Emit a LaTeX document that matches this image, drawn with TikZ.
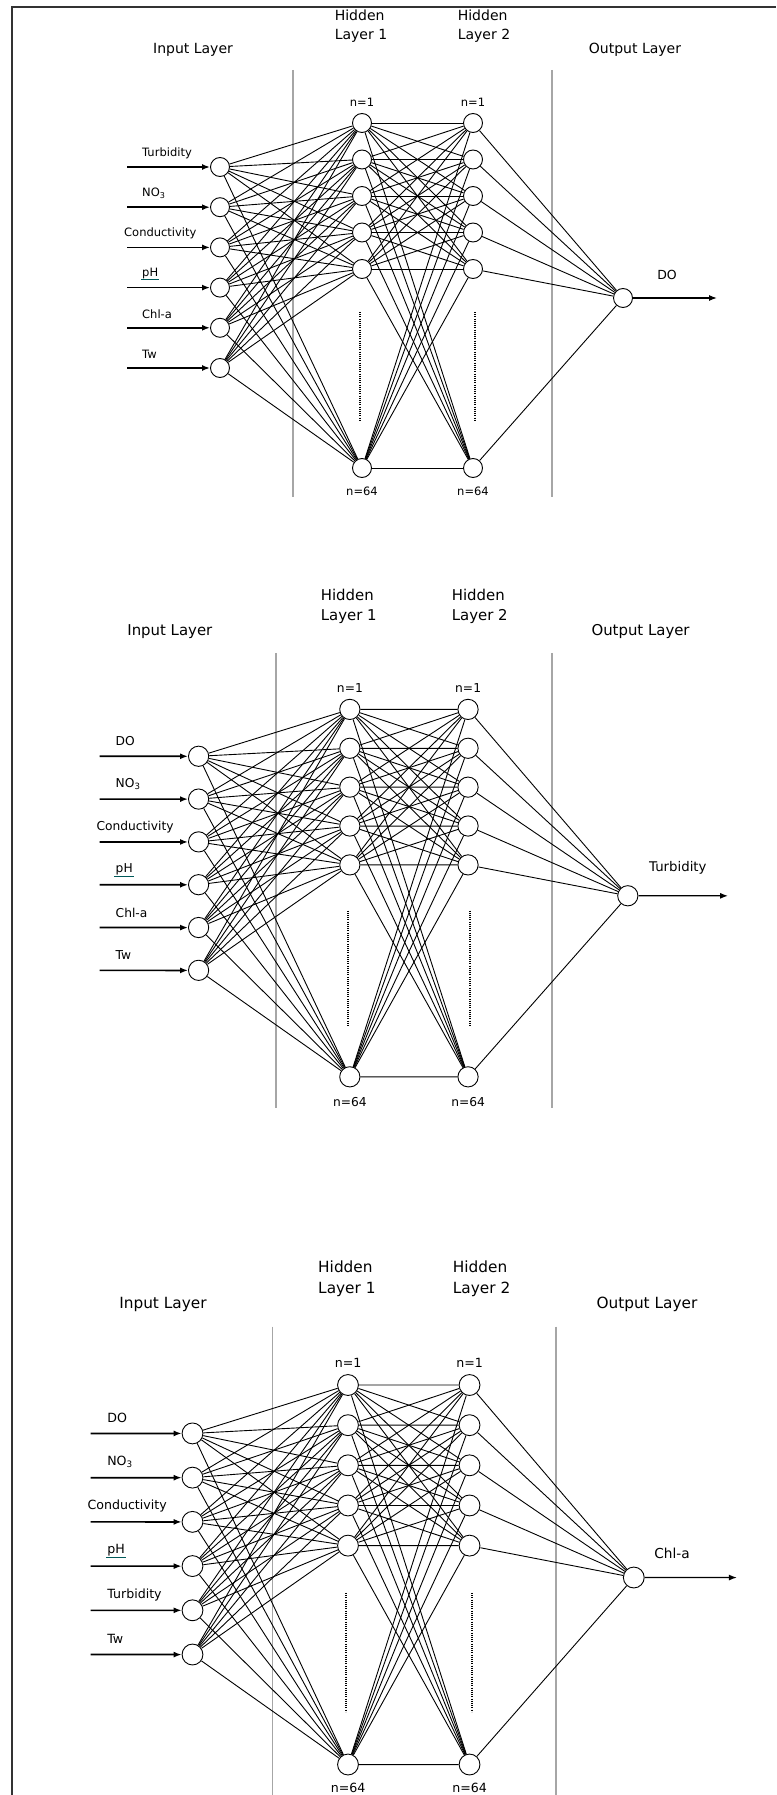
\documentclass[tikz,border=0pt]{standalone}
\usepackage{fontspec}
\setmainfont{DejaVu Sans}
\usetikzlibrary{positioning,arrows.meta}

\begin{document}
\begin{tikzpicture}[x=1pt,y=-1pt,
    neuron/.style={circle,draw,line width=0.9pt,minimum size=19pt,inner sep=0pt},
    title/.style={font=\fontsize{14}{19}\selectfont,align=left},
    small/.style={font=\fontsize{11.5}{13}\selectfont,inner sep=1pt},
    outlbl/.style={font=\fontsize{12.5}{14}\selectfont},
    link/.style={line width=0.9pt},
    feed/.style={line width=1.7pt,-{Latex[length=8pt,width=6pt]}},
    result/.style={line width=1.2pt,-{Latex[length=8pt,width=6pt]}},
    sep/.style={draw=black!35,line width=1.8pt},
    dots/.style={line width=2pt,dash pattern=on 1pt off 1.2pt}]
  \useasboundingbox (0,0) rectangle (776,1795);
  \draw[line width=2pt,black!80] (12,1795) -- (12,7) -- (776,7);

  % model 1: DO
  \begin{scope}[name prefix=a-]
    \draw[sep] (293,70) -- (293,497);
    \draw[sep] (552,70) -- (552,497);
    \node[title] (tin) at (193,50) {Input Layer};
    \node[title] (th1) at (361,26.5) {Hidden\\Layer 1};
    \node[title] (th2) at (484,26.5) {Hidden\\Layer 2};
    \node[title] (tout) at (635,50) {Output Layer};
    \foreach \t/\lx [count=\i] in {Turbidity/141,NO\textsubscript{3}/141,Conductivity/123,pH/141,Chl-a/141,Tw/141}{
      \node[neuron] (i\i) at (220,{167+40.2*(\i-1)}) {};
      \coordinate (s\i) at (127,{167+40.2*(\i-1)});
      \node[small,anchor=west] (l\i) at (\lx,{153+40.2*(\i-1)}) {\t};
      \draw[feed] (s\i) -- (i\i);
    }
    \foreach \j in {1,...,6}{
      \pgfmathsetmacro\hy{\j<6 ? 123+36.5*(\j-1) : 468}
      \node[neuron] (h\j) at (362,\hy) {};
      \node[neuron] (k\j) at (473,\hy) {};
    }
    \node[small,above=5pt of h1] (h1n) {n=1};
    \node[small,above=5pt of k1] (k1n) {n=1};
    \node[small,below=8pt of h6] (h6n) {n=64};
    \node[small,below=8pt of k6] (k6n) {n=64};
    \draw[dots] (360,312) -- (360,420);
    \draw[dots] (475,312) -- (475,420);
    \node[neuron] (o) at (623,298) {};
    \coordinate (e) at (717,298);
    \draw[result] (o) -- (e);
    \node[outlbl] (ol) at (667,275) {DO};
    \foreach \i in {1,...,6}{
      \foreach \j in {1,...,6}{
        \draw[link] (i\i) -- (h\j);
        \draw[link] (h\i) -- (k\j);
      }
      \draw[link] (k\i) -- (o);
    }
    \draw[teal!70!black,line width=0.5pt] ([yshift=1pt]l4.south west) -- ([yshift=1pt]l4.south east);
  \end{scope}

  % model 2: Turbidity
  \begin{scope}[shift={(-35.7,578.4)},scale=1.065,transform shape,name prefix=b-]
    \draw[sep] (293,70) -- (293,497);
    \draw[sep] (552,70) -- (552,497);
    \node[title] (tin) at (193,50) {Input Layer};
    \node[title] (th1) at (361,26.5) {Hidden\\Layer 1};
    \node[title] (th2) at (484,26.5) {Hidden\\Layer 2};
    \node[title] (tout) at (635,50) {Output Layer};
    \foreach \t/\lx [count=\i] in {DO/141,NO\textsubscript{3}/141,Conductivity/123,pH/141,Chl-a/141,Tw/141}{
      \node[neuron] (i\i) at (220,{167+40.2*(\i-1)}) {};
      \coordinate (s\i) at (127,{167+40.2*(\i-1)});
      \node[small,anchor=west] (l\i) at (\lx,{153+40.2*(\i-1)}) {\t};
      \draw[feed] (s\i) -- (i\i);
    }
    \foreach \j in {1,...,6}{
      \pgfmathsetmacro\hy{\j<6 ? 123+36.5*(\j-1) : 468}
      \node[neuron] (h\j) at (362,\hy) {};
      \node[neuron] (k\j) at (473,\hy) {};
    }
    \node[small,above=5pt of h1] (h1n) {n=1};
    \node[small,above=5pt of k1] (k1n) {n=1};
    \node[small,below=8pt of h6] (h6n) {n=64};
    \node[small,below=8pt of k6] (k6n) {n=64};
    \draw[dots] (360,312) -- (360,420);
    \draw[dots] (475,312) -- (475,420);
    \node[neuron] (o) at (623,298) {};
    \coordinate (e) at (717,298);
    \draw[result] (o) -- (e);
    \node[outlbl] (ol) at (670,272) {Turbidity};
    \foreach \i in {1,...,6}{
      \foreach \j in {1,...,6}{
        \draw[link] (i\i) -- (h\j);
        \draw[link] (h\i) -- (k\j);
      }
      \draw[link] (k\i) -- (o);
    }
    \draw[teal!70!black,line width=0.5pt] ([yshift=1pt]l4.south west) -- ([yshift=1pt]l4.south east);
  \end{scope}

  % model 3: Chl-a
  \begin{scope}[shift={(-48.4,1249.7)},xscale=1.095,yscale=1.1,transform shape,name prefix=c-]
    \draw[sep] (293,70) -- (293,497);
    \draw[sep] (552,70) -- (552,497);
    \node[title] (tin) at (193,50) {Input Layer};
    \node[title] (th1) at (361,26.5) {Hidden\\Layer 1};
    \node[title] (th2) at (484,26.5) {Hidden\\Layer 2};
    \node[title] (tout) at (635,50) {Output Layer};
    \foreach \t/\lx [count=\i] in {DO/141,NO\textsubscript{3}/141,Conductivity/123,pH/141,Turbidity/141,Tw/141}{
      \node[neuron] (i\i) at (220,{167+40.2*(\i-1)}) {};
      \coordinate (s\i) at (127,{167+40.2*(\i-1)});
      \node[small,anchor=west] (l\i) at (\lx,{153+40.2*(\i-1)}) {\t};
      \draw[feed] (s\i) -- (i\i);
    }
    \foreach \j in {1,...,6}{
      \pgfmathsetmacro\hy{\j<6 ? 123+36.5*(\j-1) : 468}
      \node[neuron] (h\j) at (362,\hy) {};
      \node[neuron] (k\j) at (473,\hy) {};
    }
    \node[small,above=5pt of h1] (h1n) {n=1};
    \node[small,above=5pt of k1] (k1n) {n=1};
    \node[small,below=6pt of h6] (h6n) {n=64};
    \node[small,below=6pt of k6] (k6n) {n=64};
    \draw[dots] (360,312) -- (360,420);
    \draw[dots] (475,312) -- (475,420);
    \node[neuron] (o) at (623,298) {};
    \coordinate (e) at (717,298);
    \draw[result] (o) -- (e);
    \node[outlbl] (ol) at (658,276) {Chl-a};
    \foreach \i in {1,...,6}{
      \foreach \j in {1,...,6}{
        \draw[link] (i\i) -- (h\j);
        \draw[link] (h\i) -- (k\j);
      }
      \draw[link] (k\i) -- (o);
    }
    \draw[teal!70!black,line width=0.5pt] ([yshift=1pt]l4.south west) -- ([yshift=1pt]l4.south east);
  \end{scope}
\end{tikzpicture}
\end{document}
